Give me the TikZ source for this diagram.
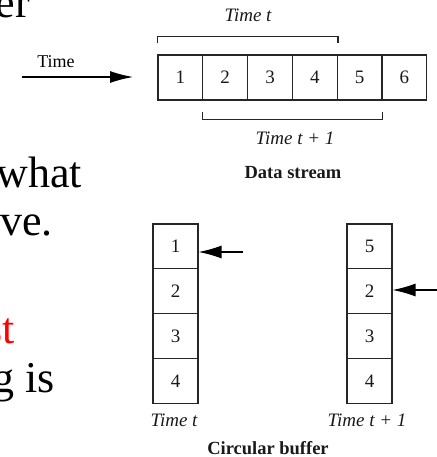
\documentclass[tikz,border=0pt]{standalone}
\usepackage{fontspec}
\setmainfont{Liberation Serif}
\usetikzlibrary{arrows.meta}

\begin{document}
\begin{tikzpicture}[x=1pt,y=-1pt,
    cell/.style={draw=black!85,line width=1.3pt,minimum width=44.8pt,minimum height=44.8pt,
                 inner sep=0pt,text=black!90,font=\fontsize{19}{21}\selectfont},
    lbl/.style={inner sep=0pt,text=black!90,font=\fontsize{19}{21}\selectfont\itshape},
    ttl/.style={inner sep=0pt,text=black!90,font=\fontsize{18.5}{20}\selectfont\bfseries},
    slide/.style={inner sep=0pt,anchor=base east,font=\fontsize{44}{50}\selectfont},
    bracket/.style={draw=black!85,line width=1.3pt},
    ptr/.style={draw=black,line width=1.2pt,-{Latex[length=23pt,width=12pt]}}]
\useasboundingbox (0,0) rectangle (436,457);

% slide text running behind the figure
\node[slide] (s1) at (30,18) {er};
\node[slide] (s2) at (82,187) {what};
\node[slide] (s3) at (53,235) {ve.};
\node[slide,text=red] (s4) at (15,343) {st};
\node[slide] (s5) at (55,392) {g is};

% data stream
\foreach \i in {1,...,6}
  \node[cell] (ds\i) at ({158+22.4*(2*\i-1)},77.5) {\i};

\draw[bracket] ([yshift=11pt]ds1.north west) -- ([yshift=18pt]ds1.north west)
   -- ([yshift=18pt]ds4.north east) -- ([yshift=11pt]ds4.north east);
\draw[bracket] ([yshift=-11pt]ds2.south west) -- ([yshift=-19pt]ds2.south west)
   -- ([yshift=-19pt]ds5.south east) -- ([yshift=-11pt]ds5.south east);

\node[lbl] (tt) at (248,15) {Time t};
\node[lbl] (tt1) at (295,138) {Time t + 1};
\node[ttl] (dst) at (293,173) {Data stream};

\coordinate (ts) at (22,77);
\coordinate (te) at (133,77);
\draw[ptr] (ts) -- (te);
\node[inner sep=0pt,font=\fontsize{18}{20}\selectfont] (tl) at (56,62) {Time};

% circular buffer at time t and t+1
\foreach \v [count=\i] in {1,2,3,4}
  \node[cell] (ca\i) at (175.5,{224+22.4*(2*\i-1)}) {\v};
\foreach \v [count=\i] in {5,2,3,4}
  \node[cell] (cb\i) at (369.5,{224+22.4*(2*\i-1)}) {\v};

\coordinate (pa) at (243,252);
\draw[ptr,-{Latex[length=23pt,width=13pt]}] (pa) -- (pa -| ca1.east);
\coordinate (pb) at (437,290);
\draw[ptr,-{Latex[length=23pt,width=13pt]}] (pb) -- (pb -| cb2.east);

\node[lbl] (la) at (174,420) {Time t};
\node[lbl] (lb) at (367,420) {Time t + 1};
\node[ttl] (cbt) at (268,448) {Circular buffer};
\end{tikzpicture}
\end{document}
